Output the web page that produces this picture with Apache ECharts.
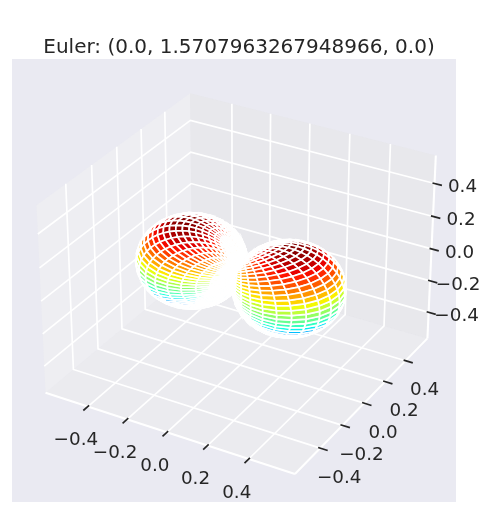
<!DOCTYPE html>
<html><head><meta charset="utf-8">
<style>html,body{margin:0;padding:0;background:#fff}#c{width:494px;height:517px}</style>
<script src="https://cdn.jsdelivr.net/npm/echarts@6/dist/echarts.min.js"></script>
</head><body><div id="c"></div>
<script>
const titleText = 'Euler: (0.0, 1.5707963267948966, 0.0)';
const tickValues = [-0.4, -0.2, 0.0, 0.2, 0.4];
const tickLabels = ['\u22120.4', '\u22120.2', '0.0', '0.2', '0.4'];
const lobePeak = 0.4886;
const polarAngles = [0,3.673,7.347,11.02,14.69,18.37,22.04,25.71,29.39,33.06,36.73,40.41,44.08,47.76,51.43,55.1,58.78,62.45,66.12,69.8,73.47,77.14,80.82,84.49,88.16,91.84,95.51,99.18,102.86,106.53,110.2,113.88,117.55,121.22,124.9,128.57,132.24,135.92,139.59,143.27,146.94,150.61,154.29,157.96,161.63,165.31,168.98,172.65,176.33,180];
const polarRadius = [0,.0641,.1279,.1912,.2537,.3151,.3753,.4339,.4907,.5455,.5981,.6482,.6957,.7403,.7818,.8201,.8551,.8866,.9144,.9385,.9587,.9749,.9872,.9954,.9995,.9995,.9954,.9872,.9749,.9587,.9385,.9144,.8866,.8551,.8201,.7818,.7403,.6957,.6482,.5981,.5455,.4907,.4339,.3753,.3151,.2537,.1912,.1279,.0641,0];
const azimuthAngles = [0,7.347,14.69,22.04,29.39,36.73,44.08,51.43,58.78,66.12,73.47,80.82,88.16,95.51,102.86,110.2,117.55,124.9,132.24,139.59,146.94,154.29,161.63,168.98,176.33,183.67,191.02,198.37,205.71,213.06,220.41,227.76,235.1,242.45,249.8,257.14,264.49,271.84,279.18,286.53,293.88,301.22,308.57,315.92,323.27,330.61,337.96,345.31,352.65,360];
const azimuthRadius = [1,.9918,.9673,.9269,.8713,.8014,.7183,.6235,.5183,.4048,.2845,.1596,.0321,.096,.2225,.3453,.4625,.5721,.6723,.7615,.838,.901,.949,.9816,.998,.998,.9816,.949,.901,.838,.7615,.6723,.5721,.4625,.3453,.2225,.096,.0321,.1596,.2845,.4048,.5183,.6235,.7183,.8014,.8713,.9269,.9673,.9918,1];

const xyLim = 0.595, zLim = 0.545;
const xyPane = xyLim + 2 * xyLim / 48, zPane = zLim + 2 * zLim / 48;
const TEXT = '#262626';

// matplotlib-style 3D camera: elev 30, azim -60, box aspect 4:4:3, distance 10
const rad = Math.PI / 180;
const aspectNorm = 1.8294640721620434 / Math.hypot(4, 4, 3);
const bx = 4 * aspectNorm, bz = 3 * aspectNorm;
const el = 30 * rad, az = -60 * rad, dist = 10;
const w = [Math.cos(az) * Math.cos(el), Math.sin(az) * Math.cos(el), Math.sin(el)];
const un = Math.hypot(w[0], w[1]);
const u = [-w[1] / un, w[0] / un, 0];
const v = [w[1] * u[2] - w[2] * u[1], w[2] * u[0] - w[0] * u[2], w[0] * u[1] - w[1] * u[0]];
const eye = [bx / 2 + dist * w[0], bx / 2 + dist * w[1], bz / 2 + dist * w[2]];
function project(x, y, z) {
  const p = [(x + xyLim) / (2 * xyLim) * bx - eye[0], (y + xyLim) / (2 * xyLim) * bx - eye[1], (z + zLim) / (2 * zLim) * bz - eye[2]];
  const xc = u[0] * p[0] + u[1] * p[1] + u[2] * p[2];
  const yc = v[0] * p[0] + v[1] * p[1] + v[2] * p[2];
  const zc = w[0] * p[0] + w[1] * p[1] + w[2] * p[2];
  return [xc / -zc, yc / -zc, zc];
}

// jet colormap
const jetR = [[0,0],[.35,0],[.66,1],[.89,1],[1,.5]];
const jetG = [[0,0],[.125,0],[.375,1],[.64,1],[.91,0],[1,0]];
const jetB = [[0,.5],[.11,1],[.34,1],[.65,0],[1,0]];
function ramp(t, s) {
  for (let i = 1; i < s.length; i++) if (t <= s[i][0]) {
    return s[i-1][1] + (t - s[i-1][0]) / (s[i][0] - s[i-1][0]) * (s[i][1] - s[i-1][1]);
  }
  return s[s.length-1][1];
}
function jet(t) {
  t = Math.max(0, Math.min(1, t));
  return 'rgb(' + [jetR, jetG, jetB].map(s => Math.round(255 * ramp(t, s))).join(',') + ')';
}

// surface vertices from the angle and radius samples
const verts = polarAngles.map((th, i) => azimuthAngles.map((ph, j) => {
  const r = lobePeak * polarRadius[i] * azimuthRadius[j];
  const x = r * Math.sin(th * rad) * Math.cos(ph * rad);
  const y = r * Math.sin(th * rad) * Math.sin(ph * rad);
  const z = r * Math.cos(th * rad);
  return { z, p: project(x, y, z) };
}));
const zPeak = lobePeak / 2;
const cells = [];
for (let i = 0; i < polarAngles.length - 1; i++) for (let j = 0; j < azimuthAngles.length - 1; j++) {
  const c = [verts[i][j], verts[i][j+1], verts[i+1][j+1], verts[i+1][j]];
  cells.push({ pts: c.map(q => q.p), depth: c.reduce((a, q) => a + q.p[2], 0) / 4, color: jet((verts[i][j].z + zPeak) / (2 * zPeak)) });
}
cells.sort((a, b) => a.depth - b.depth);

const panes = [
  { color: 'rgba(242,242,242,0.5)', pts: [[-xyPane,-xyPane,-zPane],[-xyPane,xyPane,-zPane],[-xyPane,xyPane,zPane],[-xyPane,-xyPane,zPane]] },
  { color: 'rgba(230,230,230,0.5)', pts: [[-xyPane,xyPane,-zPane],[xyPane,xyPane,-zPane],[xyPane,xyPane,zPane],[-xyPane,xyPane,zPane]] },
  { color: 'rgba(236,236,236,0.5)', pts: [[-xyPane,-xyPane,-zPane],[xyPane,-xyPane,-zPane],[xyPane,xyPane,-zPane],[-xyPane,xyPane,-zPane]] }
];
const gridPaths = [];
tickValues.forEach(t => {
  gridPaths.push([[t,-xyPane,-zPane],[t,xyPane,-zPane],[t,xyPane,zPane]]);
  gridPaths.push([[xyPane,t,-zPane],[-xyPane,t,-zPane],[-xyPane,t,zPane]]);
  gridPaths.push([[-xyPane,-xyPane,t],[-xyPane,xyPane,t],[xyPane,xyPane,t]]);
});
const axisPaths = [
  [[-xyPane,-xyPane,-zPane],[xyPane,-xyPane,-zPane]],
  [[xyPane,-xyPane,-zPane],[xyPane,xyPane,-zPane]],
  [[xyPane,xyPane,-zPane],[xyPane,xyPane,zPane]]
];
// each tick: two ends in world space, plus the label and its pixel offset from the axis point
const tickOut = 0.36, tickIn = 0.1, dxy = 2 * xyLim / 12;
const ticks = [];
tickValues.forEach((t, k) => {
  ticks.push({ a: [t, -xyPane - tickOut * dxy, -zPane], b: [t, -xyPane + tickIn * dxy, -zPane], c: [t, -xyPane, -zPane], label: tickLabels[k], dx: -12, dy: 34 });
  ticks.push({ a: [xyPane + tickOut * dxy, t, -zPane], b: [xyPane - tickIn * dxy, t, -zPane], c: [xyPane, t, -zPane], label: tickLabels[k], dx: 19, dy: 30 });
  ticks.push({ a: [xyPane + tickOut * dxy, xyPane, t], b: [xyPane - tickIn * dxy, xyPane, t], c: [xyPane, xyPane, t], label: tickLabels[k], dx: 28, dy: 4 });
});

const xy = p => { const q = project(p[0], p[1], p[2]); return [q[0], q[1]]; };
const chart = echarts.init(document.getElementById('c'), null, { renderer: 'canvas' });
chart.setOption({
  animation: false,
  backgroundColor: '#fff',
  title: { text: titleText, left: 234, top: 33, textAlign: 'center',
    textStyle: { fontFamily: 'DejaVu Sans', fontSize: 20, fontWeight: 'normal', color: TEXT } },
  grid: { left: 12, top: 59, width: 444, height: 443, show: true, backgroundColor: '#EAEAF2', borderWidth: 0 },
  xAxis: { type: 'value', min: -0.095, max: 0.09, show: false },
  yAxis: { type: 'value', min: -0.095, max: 0.09, show: false },
  tooltip: { show: false },
  series: [
    { type: 'custom', silent: true, z: 1, data: panes.map((_, i) => [i]), progressive: 0, clip: false,
      renderItem: (params, api) => {
        const pane = panes[api.value(0)];
        return { type: 'polygon', shape: { points: pane.pts.map(p => api.coord(xy(p))) }, style: { fill: pane.color } };
      } },
    { type: 'custom', silent: true, z: 2, data: gridPaths.map((_, i) => [i]), progressive: 0, clip: false,
      renderItem: (params, api) => ({ type: 'polyline', shape: { points: gridPaths[api.value(0)].map(p => api.coord(xy(p))) },
        style: { stroke: '#fff', fill: 'none', lineWidth: 1.67 } }) },
    { type: 'custom', silent: true, z: 3, data: axisPaths.map((_, i) => [i]), progressive: 0, clip: false,
      renderItem: (params, api) => ({ type: 'polyline', shape: { points: axisPaths[api.value(0)].map(p => api.coord(xy(p))) },
        style: { stroke: '#fff', fill: 'none', lineWidth: 2.08 } }) },
    { type: 'custom', silent: true, z: 4, data: ticks.map((_, i) => [i]), progressive: 0, clip: false,
      renderItem: (params, api) => {
        const t = ticks[api.value(0)];
        const c = api.coord(xy(t.c));
        return { type: 'group', children: [
          { type: 'line', shape: (() => { const a = api.coord(xy(t.a)), b = api.coord(xy(t.b)); return { x1: a[0], y1: a[1], x2: b[0], y2: b[1] }; })(),
            style: { stroke: TEXT, lineWidth: 1.67 } },
          { type: 'text', x: c[0] + t.dx, y: c[1] + t.dy,
            style: { text: t.label, fill: TEXT, fontFamily: 'DejaVu Sans', fontSize: 18.33, textAlign: 'center', textVerticalAlign: 'middle' } }
        ] };
      } },
    { type: 'custom', silent: true, z: 5, data: cells.map((_, i) => [i]), progressive: 0, clip: false,
      renderItem: (params, api) => {
        const c = cells[api.value(0)];
        return { type: 'polygon', shape: { points: c.pts.map(q => api.coord([q[0], q[1]])) },
          style: { fill: c.color, stroke: '#fff', lineWidth: 1.67 } };
      } }
  ]
});
</script></body></html>
